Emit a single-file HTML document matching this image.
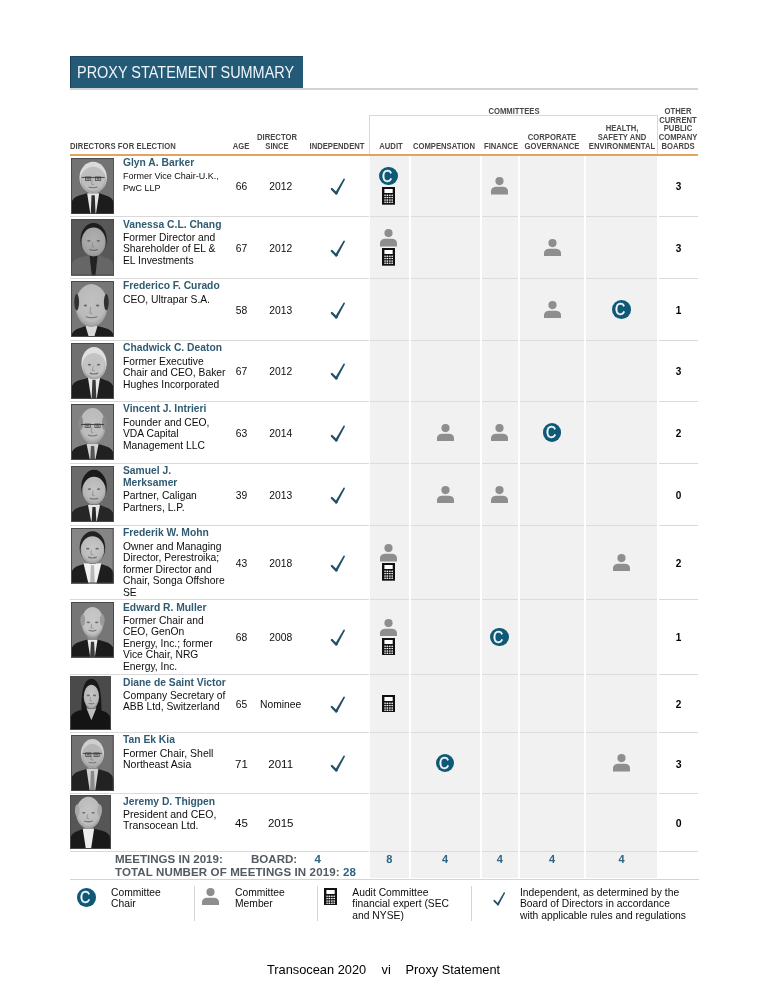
<!DOCTYPE html>
<html><head><meta charset="utf-8"><title>Proxy Statement Summary</title>
<style>
*{margin:0;padding:0;box-sizing:border-box}
html,body{width:768px;height:1000px;background:#fff;overflow:hidden}
body{position:relative;font-family:"Liberation Sans",Arial,Helvetica,sans-serif;color:#1a1a1a}
.a{position:absolute;white-space:nowrap}
.title{position:absolute;left:70px;top:56px;width:233px;height:32px;background:#255a77;border-left:1px solid #163f55;border-top:1px solid #1d4a62}
.title span{position:absolute;left:6.2px;top:0;line-height:31.4px;color:#eef5f9;font-size:15.8px;white-space:nowrap;transform:scaleX(0.915);transform-origin:0 0}
.hdr{position:absolute;font-size:8.4px;font-weight:bold;color:#474747;line-height:8.75px;text-align:center;white-space:nowrap;transform:scaleX(0.915)}
.ic{position:absolute;display:block}
.cc{position:absolute;width:18.6px;height:18.6px;border-radius:50%;background:#0f5977}
.cc span{position:absolute;left:0;top:0;width:18.6px;height:18.6px;color:#f4fbff;font-size:16.4px;line-height:18.8px;text-align:center;-webkit-text-stroke:0.35px #f4fbff;transform:translateX(-1.2px) scaleX(0.86)}
.nm{position:absolute;left:123px;font-size:10.3px;font-weight:bold;color:#2f5b72;line-height:11.7px;white-space:nowrap}
.ds{position:absolute;left:123px;font-size:10.3px;color:#0d0d0d;line-height:11.5px;white-space:nowrap}
.num{position:absolute;font-size:10.3px;line-height:12px;color:#0d0d0d;text-align:center;width:60px;white-space:nowrap}
.bd{position:absolute;font-size:10px;line-height:12px;font-weight:bold;color:#000;text-align:center;width:40px}
.col{position:absolute;background:#f1f1f1}
.sep{position:absolute;height:1px;background:#d9d9d9}
.mt{position:absolute;font-size:11.55px;line-height:13.5px;font-weight:bold;color:#535a62;white-space:nowrap}
.mv{position:absolute;font-size:11px;line-height:13px;font-weight:bold;color:#2e6485;text-align:center;width:30px}
.lg{position:absolute;font-size:10.3px;line-height:11.65px;color:#0d0d0d;white-space:nowrap}
.vl{position:absolute;width:1px;background:#d4d4d4}
.ft{position:absolute;font-size:12.8px;line-height:15px;color:#000;white-space:nowrap}
</style></head><body>

<div class="title"><span>PROXY STATEMENT SUMMARY</span></div>
<div class="a" style="left:70px;top:88px;width:628px;height:1.6px;background:#d2d2d2"></div>
<div class="col" style="left:370px;top:155.5px;width:38.5px;height:722.8px"></div>
<div class="col" style="left:410.5px;top:155.5px;width:69.0px;height:722.8px"></div>
<div class="col" style="left:481.5px;top:155.5px;width:36.5px;height:722.8px"></div>
<div class="col" style="left:520px;top:155.5px;width:64px;height:722.8px"></div>
<div class="col" style="left:586px;top:155.5px;width:71px;height:722.8px"></div>
<div class="a" style="left:369px;top:115px;width:289px;height:1px;background:#d9d9d9"></div>
<div class="a" style="left:369px;top:115px;width:1px;height:39px;background:#d9d9d9"></div>
<div class="a" style="left:657px;top:115px;width:1px;height:39px;background:#d9d9d9"></div>
<div class="hdr" style="left:69.6px;top:141.91px;width:120px;text-align:left;letter-spacing:0.08px;transform-origin:left 0">DIRECTORS FOR ELECTION</div>
<div class="hdr" style="left:201.3px;top:141.91px;width:80px;text-align:center;transform-origin:center 0">AGE</div>
<div class="hdr" style="left:237.3px;top:133.16px;width:80px;text-align:center;transform-origin:center 0">DIRECTOR<br>SINCE</div>
<div class="hdr" style="left:297.4px;top:141.91px;width:80px;text-align:center;transform-origin:center 0">INDEPENDENT</div>
<div class="hdr" style="left:351.0px;top:141.91px;width:80px;text-align:center;transform-origin:center 0">AUDIT</div>
<div class="hdr" style="left:403.7px;top:141.91px;width:80px;text-align:center;transform-origin:center 0">COMPENSATION</div>
<div class="hdr" style="left:460.6px;top:141.91px;width:80px;text-align:center;transform-origin:center 0">FINANCE</div>
<div class="hdr" style="left:511.6px;top:133.16px;width:80px;text-align:center;transform-origin:center 0">CORPORATE<br>GOVERNANCE</div>
<div class="hdr" style="left:581.9px;top:124.41px;width:80px;text-align:center;transform-origin:center 0">HEALTH,<br>SAFETY AND<br>ENVIRONMENTAL</div>
<div class="hdr" style="left:638.2px;top:106.91px;width:80px;text-align:center;transform-origin:center 0">OTHER<br>CURRENT<br>PUBLIC<br>COMPANY<br>BOARDS</div>
<div class="hdr" style="left:474.0px;top:107.11px;width:80px;text-align:center;transform-origin:center 0">COMMITTEES</div>
<div class="a" style="left:70px;top:153.5px;width:628px;height:2px;background:#e3a25e"></div>
<div class="sep" style="left:70px;top:216px;width:299px"></div>
<div class="sep" style="left:370px;top:216px;width:38.5px;background:#dcdcdc"></div>
<div class="sep" style="left:410.5px;top:216px;width:69.0px;background:#dcdcdc"></div>
<div class="sep" style="left:481.5px;top:216px;width:36.5px;background:#dcdcdc"></div>
<div class="sep" style="left:520px;top:216px;width:64px;background:#dcdcdc"></div>
<div class="sep" style="left:586px;top:216px;width:71px;background:#dcdcdc"></div>
<div class="sep" style="left:659px;top:216px;width:39px"></div>
<div class="sep" style="left:70px;top:278px;width:299px"></div>
<div class="sep" style="left:370px;top:278px;width:38.5px;background:#dcdcdc"></div>
<div class="sep" style="left:410.5px;top:278px;width:69.0px;background:#dcdcdc"></div>
<div class="sep" style="left:481.5px;top:278px;width:36.5px;background:#dcdcdc"></div>
<div class="sep" style="left:520px;top:278px;width:64px;background:#dcdcdc"></div>
<div class="sep" style="left:586px;top:278px;width:71px;background:#dcdcdc"></div>
<div class="sep" style="left:659px;top:278px;width:39px"></div>
<div class="sep" style="left:70px;top:340px;width:299px"></div>
<div class="sep" style="left:370px;top:340px;width:38.5px;background:#dcdcdc"></div>
<div class="sep" style="left:410.5px;top:340px;width:69.0px;background:#dcdcdc"></div>
<div class="sep" style="left:481.5px;top:340px;width:36.5px;background:#dcdcdc"></div>
<div class="sep" style="left:520px;top:340px;width:64px;background:#dcdcdc"></div>
<div class="sep" style="left:586px;top:340px;width:71px;background:#dcdcdc"></div>
<div class="sep" style="left:659px;top:340px;width:39px"></div>
<div class="sep" style="left:70px;top:401px;width:299px"></div>
<div class="sep" style="left:370px;top:401px;width:38.5px;background:#dcdcdc"></div>
<div class="sep" style="left:410.5px;top:401px;width:69.0px;background:#dcdcdc"></div>
<div class="sep" style="left:481.5px;top:401px;width:36.5px;background:#dcdcdc"></div>
<div class="sep" style="left:520px;top:401px;width:64px;background:#dcdcdc"></div>
<div class="sep" style="left:586px;top:401px;width:71px;background:#dcdcdc"></div>
<div class="sep" style="left:659px;top:401px;width:39px"></div>
<div class="sep" style="left:70px;top:463px;width:299px"></div>
<div class="sep" style="left:370px;top:463px;width:38.5px;background:#dcdcdc"></div>
<div class="sep" style="left:410.5px;top:463px;width:69.0px;background:#dcdcdc"></div>
<div class="sep" style="left:481.5px;top:463px;width:36.5px;background:#dcdcdc"></div>
<div class="sep" style="left:520px;top:463px;width:64px;background:#dcdcdc"></div>
<div class="sep" style="left:586px;top:463px;width:71px;background:#dcdcdc"></div>
<div class="sep" style="left:659px;top:463px;width:39px"></div>
<div class="sep" style="left:70px;top:525px;width:299px"></div>
<div class="sep" style="left:370px;top:525px;width:38.5px;background:#dcdcdc"></div>
<div class="sep" style="left:410.5px;top:525px;width:69.0px;background:#dcdcdc"></div>
<div class="sep" style="left:481.5px;top:525px;width:36.5px;background:#dcdcdc"></div>
<div class="sep" style="left:520px;top:525px;width:64px;background:#dcdcdc"></div>
<div class="sep" style="left:586px;top:525px;width:71px;background:#dcdcdc"></div>
<div class="sep" style="left:659px;top:525px;width:39px"></div>
<div class="sep" style="left:70px;top:599px;width:299px"></div>
<div class="sep" style="left:370px;top:599px;width:38.5px;background:#dcdcdc"></div>
<div class="sep" style="left:410.5px;top:599px;width:69.0px;background:#dcdcdc"></div>
<div class="sep" style="left:481.5px;top:599px;width:36.5px;background:#dcdcdc"></div>
<div class="sep" style="left:520px;top:599px;width:64px;background:#dcdcdc"></div>
<div class="sep" style="left:586px;top:599px;width:71px;background:#dcdcdc"></div>
<div class="sep" style="left:659px;top:599px;width:39px"></div>
<div class="sep" style="left:70px;top:674px;width:299px"></div>
<div class="sep" style="left:370px;top:674px;width:38.5px;background:#dcdcdc"></div>
<div class="sep" style="left:410.5px;top:674px;width:69.0px;background:#dcdcdc"></div>
<div class="sep" style="left:481.5px;top:674px;width:36.5px;background:#dcdcdc"></div>
<div class="sep" style="left:520px;top:674px;width:64px;background:#dcdcdc"></div>
<div class="sep" style="left:586px;top:674px;width:71px;background:#dcdcdc"></div>
<div class="sep" style="left:659px;top:674px;width:39px"></div>
<div class="sep" style="left:70px;top:732px;width:299px"></div>
<div class="sep" style="left:370px;top:732px;width:38.5px;background:#dcdcdc"></div>
<div class="sep" style="left:410.5px;top:732px;width:69.0px;background:#dcdcdc"></div>
<div class="sep" style="left:481.5px;top:732px;width:36.5px;background:#dcdcdc"></div>
<div class="sep" style="left:520px;top:732px;width:64px;background:#dcdcdc"></div>
<div class="sep" style="left:586px;top:732px;width:71px;background:#dcdcdc"></div>
<div class="sep" style="left:659px;top:732px;width:39px"></div>
<div class="sep" style="left:70px;top:793px;width:299px"></div>
<div class="sep" style="left:370px;top:793px;width:38.5px;background:#dcdcdc"></div>
<div class="sep" style="left:410.5px;top:793px;width:69.0px;background:#dcdcdc"></div>
<div class="sep" style="left:481.5px;top:793px;width:36.5px;background:#dcdcdc"></div>
<div class="sep" style="left:520px;top:793px;width:64px;background:#dcdcdc"></div>
<div class="sep" style="left:586px;top:793px;width:71px;background:#dcdcdc"></div>
<div class="sep" style="left:659px;top:793px;width:39px"></div>
<div class="sep" style="left:70px;top:851px;width:299px"></div>
<div class="sep" style="left:370px;top:851px;width:38.5px;background:#dcdcdc"></div>
<div class="sep" style="left:410.5px;top:851px;width:69.0px;background:#dcdcdc"></div>
<div class="sep" style="left:481.5px;top:851px;width:36.5px;background:#dcdcdc"></div>
<div class="sep" style="left:520px;top:851px;width:64px;background:#dcdcdc"></div>
<div class="sep" style="left:586px;top:851px;width:71px;background:#dcdcdc"></div>
<div class="sep" style="left:659px;top:851px;width:39px"></div>
<svg class="ic" style="left:71px;top:157.5px" width="43.3" height="56.3" viewBox="0 0 43 56" preserveAspectRatio="none"><defs><radialGradient id="g0" cx="0.5" cy="0.42" r="0.62"><stop offset="0" stop-color="#bcbcbc"/><stop offset="0.7" stop-color="#bcbcbc" stop-opacity="0.92"/><stop offset="1" stop-color="#8e8e8e"/></radialGradient></defs><rect width="43" height="56" fill="#737373"/><rect x="17" y="29" width="10" height="10" fill="#8e8e8e"/><path d="M0 56 V46 Q1 39 9 37 L16 35 L28 35 L34 37 Q42 39 43 46 V56 Z" fill="#1c1c1c"/><path d="M16 35 L28 35 L24.7 56 L19.3 56 Z" fill="#e6e6e6"/><path d="M20.4 37 L23.6 37 L24.4 56 L19.6 56 Z" fill="#2a2a2a"/><ellipse cx="22" cy="19.4" rx="13.6" ry="15.6" fill="#dadada"/><ellipse cx="22" cy="21.9" rx="12.6" ry="13.1" fill="url(#g0)"/><ellipse cx="17.06" cy="20.65" rx="1.7" ry="0.9" fill="#555" opacity="0.8"/><ellipse cx="26.94" cy="20.65" rx="1.7" ry="0.9" fill="#555" opacity="0.8"/><path d="M21.2 22.15 L20.4 26.11 L22.8 26.578" fill="none" stroke="#777" stroke-width="0.8" opacity="0.7"/><path d="M17.45 28.762 Q22 30.322 26.55 28.762" fill="none" stroke="#5a5a5a" stroke-width="1.1" opacity="0.75"/><rect x="10.5" y="18.849999999999998" width="23" height="0.9" fill="#3a3a3a"/><rect x="14.459999999999999" y="18.849999999999998" width="5.2" height="3.6" fill="none" stroke="#3a3a3a" stroke-width="0.7"/><rect x="24.34" y="18.849999999999998" width="5.2" height="3.6" fill="none" stroke="#3a3a3a" stroke-width="0.7"/><rect x="0.5" y="0.5" width="42" height="55" fill="none" stroke="#4a4a4a" stroke-width="1"/></svg>
<div class="nm" style="top:156.88px">Glyn A. Barker</div>
<div class="ds" style="top:171.18px;font-size:9px;line-height:11.8px">Former Vice Chair-U.K.,<br>PwC LLP</div>
<div class="num" style="left:211.4px;top:180.78px;font-size:10.3px">66</div>
<div class="num" style="left:250.7px;top:180.78px;font-size:10.3px">2012</div>
<svg class="ic" style="left:328.50px;top:176.75px;overflow:visible" width="18.00" height="20.00" viewBox="0 0 18 20"><path d="M2.85 11.95 L7.2 16.35" fill="none" stroke="#215068" stroke-width="2.3" stroke-linecap="round"/><path d="M6.15 15.76 L14.4 1.96 L15.8 2.74 L8.25 16.94 Z" fill="#215068"/><circle cx="15.1" cy="2.35" r="0.8" fill="#215068"/><circle cx="7.2" cy="16.35" r="1.2" fill="#215068"/></svg>
<div class="cc" style="left:379.35px;top:166.70px"><span>C</span></div>
<svg class="ic" style="left:382.15px;top:187.10px" width="13" height="17.7" viewBox="0 0 13 17.7"><rect width="13" height="17.7" fill="#111"/><rect x="2.4" y="2" width="8.3" height="4" fill="#fff"/><rect x="2.6" y="7.949999999999999" width="8.2" height="0.6" fill="#fff" opacity="0.45"/><rect x="2.6" y="10.25" width="8.2" height="0.6" fill="#fff" opacity="0.45"/><rect x="2.6" y="12.75" width="8.2" height="0.6" fill="#fff" opacity="0.45"/><rect x="2.6" y="14.95" width="8.2" height="0.6" fill="#fff" opacity="0.45"/><rect x="2.4" y="7.6" width="1.3" height="1.3" fill="#fff"/><rect x="2.4" y="9.9" width="1.3" height="1.3" fill="#fff"/><rect x="2.4" y="12.4" width="1.3" height="1.3" fill="#fff"/><rect x="2.4" y="14.6" width="1.3" height="1.3" fill="#fff"/><rect x="4.7" y="7.6" width="1.3" height="1.3" fill="#fff"/><rect x="4.7" y="9.9" width="1.3" height="1.3" fill="#fff"/><rect x="4.7" y="12.4" width="1.3" height="1.3" fill="#fff"/><rect x="4.7" y="14.6" width="1.3" height="1.3" fill="#fff"/><rect x="7.2" y="7.6" width="1.3" height="1.3" fill="#fff"/><rect x="7.2" y="9.9" width="1.3" height="1.3" fill="#fff"/><rect x="7.2" y="12.4" width="1.3" height="1.3" fill="#fff"/><rect x="7.2" y="14.6" width="1.3" height="1.3" fill="#fff"/><rect x="9.6" y="7.6" width="1.3" height="1.3" fill="#fff"/><rect x="9.6" y="9.9" width="1.3" height="1.3" fill="#fff"/><rect x="9.6" y="12.4" width="1.3" height="1.3" fill="#fff"/><rect x="9.6" y="14.6" width="1.3" height="1.3" fill="#fff"/></svg>
<svg class="ic" style="left:491.25px;top:177.00px" width="17" height="17.5" viewBox="0 0 17 17.5"><circle cx="8.5" cy="4.1" r="4.1" fill="#8e8e8e"/><path d="M0 17.5 V14.3 C0 11.2 2.6 9.8 6 9.8 H11 C14.4 9.8 17 11.2 17 14.3 V17.5 Z" fill="#8e8e8e"/></svg>
<div class="bd" style="left:658.6px;top:180.88px;font-size:10px">3</div>
<svg class="ic" style="left:71px;top:219px" width="43.2" height="56.6" viewBox="0 0 43 56" preserveAspectRatio="none"><defs><radialGradient id="g1" cx="0.5" cy="0.42" r="0.62"><stop offset="0" stop-color="#b0b0b0"/><stop offset="0.7" stop-color="#b0b0b0" stop-opacity="0.92"/><stop offset="1" stop-color="#8e8e8e"/></radialGradient></defs><rect width="43" height="56" fill="#585858"/><rect x="17.5" y="31" width="10" height="9" fill="#8e8e8e"/><path d="M0 56 V47 Q1 40 9 38 L16.5 36 L28.5 36 L34 38 Q42 40 43 47 V56 Z" fill="#666666"/><path d="M18.5 36 L26.5 36 L24.3 56 L20.7 56 Z" fill="#222222"/><ellipse cx="22.5" cy="20.5" rx="13.1" ry="16.5" fill="#1e1e1e"/><ellipse cx="22.5" cy="22.75" rx="12.1" ry="14.25" fill="url(#g1)"/><ellipse cx="17.75" cy="21.625" rx="1.7" ry="0.9" fill="#555" opacity="0.8"/><ellipse cx="27.25" cy="21.625" rx="1.7" ry="0.9" fill="#555" opacity="0.8"/><path d="M21.7 23.125 L20.9 27.4 L23.3 27.895" fill="none" stroke="#777" stroke-width="0.8" opacity="0.7"/><path d="M18.125 30.205 Q22.5 31.855 26.875 30.205" fill="none" stroke="#5a5a5a" stroke-width="1.1" opacity="0.75"/><rect x="0.5" y="0.5" width="42" height="55" fill="none" stroke="#4a4a4a" stroke-width="1"/></svg>
<div class="nm" style="top:219.38px">Vanessa C.L. Chang</div>
<div class="ds" style="top:231.58px;font-size:10.3px;line-height:11.5px">Former Director and<br>Shareholder of EL &<br>EL Investments</div>
<div class="num" style="left:211.4px;top:242.53px;font-size:10.3px">67</div>
<div class="num" style="left:250.7px;top:242.53px;font-size:10.3px">2012</div>
<svg class="ic" style="left:328.50px;top:238.50px;overflow:visible" width="18.00" height="20.00" viewBox="0 0 18 20"><path d="M2.85 11.95 L7.2 16.35" fill="none" stroke="#215068" stroke-width="2.3" stroke-linecap="round"/><path d="M6.15 15.76 L14.4 1.96 L15.8 2.74 L8.25 16.94 Z" fill="#215068"/><circle cx="15.1" cy="2.35" r="0.8" fill="#215068"/><circle cx="7.2" cy="16.35" r="1.2" fill="#215068"/></svg>
<svg class="ic" style="left:380.15px;top:229.00px" width="17" height="17.5" viewBox="0 0 17 17.5"><circle cx="8.5" cy="4.1" r="4.1" fill="#8e8e8e"/><path d="M0 17.5 V14.3 C0 11.2 2.6 9.8 6 9.8 H11 C14.4 9.8 17 11.2 17 14.3 V17.5 Z" fill="#8e8e8e"/></svg>
<svg class="ic" style="left:382.15px;top:248.30px" width="13" height="17.7" viewBox="0 0 13 17.7"><rect width="13" height="17.7" fill="#111"/><rect x="2.4" y="2" width="8.3" height="4" fill="#fff"/><rect x="2.6" y="7.949999999999999" width="8.2" height="0.6" fill="#fff" opacity="0.45"/><rect x="2.6" y="10.25" width="8.2" height="0.6" fill="#fff" opacity="0.45"/><rect x="2.6" y="12.75" width="8.2" height="0.6" fill="#fff" opacity="0.45"/><rect x="2.6" y="14.95" width="8.2" height="0.6" fill="#fff" opacity="0.45"/><rect x="2.4" y="7.6" width="1.3" height="1.3" fill="#fff"/><rect x="2.4" y="9.9" width="1.3" height="1.3" fill="#fff"/><rect x="2.4" y="12.4" width="1.3" height="1.3" fill="#fff"/><rect x="2.4" y="14.6" width="1.3" height="1.3" fill="#fff"/><rect x="4.7" y="7.6" width="1.3" height="1.3" fill="#fff"/><rect x="4.7" y="9.9" width="1.3" height="1.3" fill="#fff"/><rect x="4.7" y="12.4" width="1.3" height="1.3" fill="#fff"/><rect x="4.7" y="14.6" width="1.3" height="1.3" fill="#fff"/><rect x="7.2" y="7.6" width="1.3" height="1.3" fill="#fff"/><rect x="7.2" y="9.9" width="1.3" height="1.3" fill="#fff"/><rect x="7.2" y="12.4" width="1.3" height="1.3" fill="#fff"/><rect x="7.2" y="14.6" width="1.3" height="1.3" fill="#fff"/><rect x="9.6" y="7.6" width="1.3" height="1.3" fill="#fff"/><rect x="9.6" y="9.9" width="1.3" height="1.3" fill="#fff"/><rect x="9.6" y="12.4" width="1.3" height="1.3" fill="#fff"/><rect x="9.6" y="14.6" width="1.3" height="1.3" fill="#fff"/></svg>
<svg class="ic" style="left:543.50px;top:238.75px" width="17" height="17.5" viewBox="0 0 17 17.5"><circle cx="8.5" cy="4.1" r="4.1" fill="#8e8e8e"/><path d="M0 17.5 V14.3 C0 11.2 2.6 9.8 6 9.8 H11 C14.4 9.8 17 11.2 17 14.3 V17.5 Z" fill="#8e8e8e"/></svg>
<div class="bd" style="left:658.6px;top:242.63px;font-size:10px">3</div>
<svg class="ic" style="left:71px;top:281px" width="43.0" height="56.0" viewBox="0 0 43 56" preserveAspectRatio="none"><defs><radialGradient id="g2" cx="0.5" cy="0.42" r="0.62"><stop offset="0" stop-color="#c0c0c0"/><stop offset="0.7" stop-color="#c0c0c0" stop-opacity="0.92"/><stop offset="1" stop-color="#8e8e8e"/></radialGradient></defs><rect width="43" height="56" fill="#777777"/><rect x="15.5" y="40" width="10" height="9" fill="#8e8e8e"/><path d="M0 56 V56 Q1 49 9 47 L14.5 45 L26.5 45 L34 47 Q42 49 43 56 V56 Z" fill="#1c1c1c"/><path d="M14.5 45 L26.5 45 L23.2 56 L17.8 56 Z" fill="#d8d8d8"/><ellipse cx="20.5" cy="24.5" rx="16" ry="21.5" fill="url(#g2)"/><ellipse cx="5.7" cy="21.275" rx="2.4" ry="8.17" fill="#303030"/><ellipse cx="35.3" cy="21.275" rx="2.4" ry="8.17" fill="#303030"/><ellipse cx="14.42" cy="24.5" rx="1.7" ry="0.9" fill="#555" opacity="0.8"/><ellipse cx="26.58" cy="24.5" rx="1.7" ry="0.9" fill="#555" opacity="0.8"/><path d="M19.7 26.0 L18.9 32.025 L21.3 32.67" fill="none" stroke="#777" stroke-width="0.8" opacity="0.7"/><path d="M14.9 35.68 Q20.5 37.83 26.1 35.68" fill="none" stroke="#5a5a5a" stroke-width="1.1" opacity="0.75"/><rect x="0.5" y="0.5" width="42" height="55" fill="none" stroke="#4a4a4a" stroke-width="1"/></svg>
<div class="nm" style="top:280.38px">Frederico F. Curado</div>
<div class="ds" style="top:293.58px;font-size:10.3px;line-height:11.5px">CEO, Ultrapar S.A.</div>
<div class="num" style="left:211.4px;top:304.53px;font-size:10.3px">58</div>
<div class="num" style="left:250.7px;top:304.53px;font-size:10.3px">2013</div>
<svg class="ic" style="left:328.50px;top:300.50px;overflow:visible" width="18.00" height="20.00" viewBox="0 0 18 20"><path d="M2.85 11.95 L7.2 16.35" fill="none" stroke="#215068" stroke-width="2.3" stroke-linecap="round"/><path d="M6.15 15.76 L14.4 1.96 L15.8 2.74 L8.25 16.94 Z" fill="#215068"/><circle cx="15.1" cy="2.35" r="0.8" fill="#215068"/><circle cx="7.2" cy="16.35" r="1.2" fill="#215068"/></svg>
<svg class="ic" style="left:543.50px;top:300.75px" width="17" height="17.5" viewBox="0 0 17 17.5"><circle cx="8.5" cy="4.1" r="4.1" fill="#8e8e8e"/><path d="M0 17.5 V14.3 C0 11.2 2.6 9.8 6 9.8 H11 C14.4 9.8 17 11.2 17 14.3 V17.5 Z" fill="#8e8e8e"/></svg>
<div class="cc" style="left:612.20px;top:300.20px"><span>C</span></div>
<div class="bd" style="left:658.6px;top:304.64px;font-size:10px">1</div>
<svg class="ic" style="left:71px;top:342.5px" width="43.0" height="56.0" viewBox="0 0 43 56" preserveAspectRatio="none"><defs><radialGradient id="g3" cx="0.5" cy="0.42" r="0.62"><stop offset="0" stop-color="#c2c2c2"/><stop offset="0.7" stop-color="#c2c2c2" stop-opacity="0.92"/><stop offset="1" stop-color="#8e8e8e"/></radialGradient></defs><rect width="43" height="56" fill="#707070"/><rect x="18" y="30.4" width="10" height="8.600000000000001" fill="#8e8e8e"/><path d="M0 56 V46 Q1 39 9 37 L17 35 L29 35 L34 37 Q42 39 43 46 V56 Z" fill="#1e1e1e"/><path d="M17 35 L29 35 L25.7 56 L20.3 56 Z" fill="#e8e8e8"/><path d="M21.4 37 L24.6 37 L25.4 56 L20.6 56 Z" fill="#3a3a3a"/><ellipse cx="23" cy="20.2" rx="12.6" ry="16.2" fill="#e0e0e0"/><ellipse cx="23" cy="23.2" rx="11.6" ry="13.2" fill="url(#g3)"/><ellipse cx="18.439999999999998" cy="21.7" rx="1.7" ry="0.9" fill="#555" opacity="0.8"/><ellipse cx="27.560000000000002" cy="21.7" rx="1.7" ry="0.9" fill="#555" opacity="0.8"/><path d="M22.2 23.2 L21.4 27.369999999999997 L23.8 27.855999999999998" fill="none" stroke="#777" stroke-width="0.8" opacity="0.7"/><path d="M18.8 30.124 Q23 31.744 27.2 30.124" fill="none" stroke="#5a5a5a" stroke-width="1.1" opacity="0.75"/><rect x="0.5" y="0.5" width="42" height="55" fill="none" stroke="#4a4a4a" stroke-width="1"/></svg>
<div class="nm" style="top:342.38px">Chadwick C. Deaton</div>
<div class="ds" style="top:355.58px;font-size:10.3px;line-height:11.5px">Former Executive<br>Chair and CEO, Baker<br>Hughes Incorporated</div>
<div class="num" style="left:211.4px;top:366.03px;font-size:10.3px">67</div>
<div class="num" style="left:250.7px;top:366.03px;font-size:10.3px">2012</div>
<svg class="ic" style="left:328.50px;top:362.00px;overflow:visible" width="18.00" height="20.00" viewBox="0 0 18 20"><path d="M2.85 11.95 L7.2 16.35" fill="none" stroke="#215068" stroke-width="2.3" stroke-linecap="round"/><path d="M6.15 15.76 L14.4 1.96 L15.8 2.74 L8.25 16.94 Z" fill="#215068"/><circle cx="15.1" cy="2.35" r="0.8" fill="#215068"/><circle cx="7.2" cy="16.35" r="1.2" fill="#215068"/></svg>
<div class="bd" style="left:658.6px;top:366.14px;font-size:10px">3</div>
<svg class="ic" style="left:71px;top:404px" width="43.0" height="56.0" viewBox="0 0 43 56" preserveAspectRatio="none"><defs><radialGradient id="g4" cx="0.5" cy="0.42" r="0.62"><stop offset="0" stop-color="#c0c0c0"/><stop offset="0.7" stop-color="#c0c0c0" stop-opacity="0.92"/><stop offset="1" stop-color="#8e8e8e"/></radialGradient></defs><rect width="43" height="56" fill="#828282"/><rect x="16.6" y="33.7" width="10" height="10.299999999999997" fill="#8e8e8e"/><path d="M0 56 V51 Q1 44 9 42 L15.600000000000001 40 L27.6 40 L34 42 Q42 44 43 51 V56 Z" fill="#202020"/><path d="M15.600000000000001 40 L27.6 40 L24.3 56 L18.900000000000002 56 Z" fill="#d4d4d4"/><path d="M20.0 42 L23.200000000000003 42 L24.0 56 L19.200000000000003 56 Z" fill="#555"/><ellipse cx="21.6" cy="21.8" rx="13" ry="17.900000000000002" fill="url(#g4)"/><ellipse cx="9.8" cy="19.115000000000002" rx="2.4" ry="6.8020000000000005" fill="#8a8a8a"/><ellipse cx="33.4" cy="19.115000000000002" rx="2.4" ry="6.8020000000000005" fill="#8a8a8a"/><ellipse cx="16.66" cy="21.8" rx="1.7" ry="0.9" fill="#555" opacity="0.8"/><ellipse cx="26.540000000000003" cy="21.8" rx="1.7" ry="0.9" fill="#555" opacity="0.8"/><path d="M20.8 23.3 L20.0 28.065 L22.400000000000002 28.602" fill="none" stroke="#777" stroke-width="0.8" opacity="0.7"/><path d="M17.05 31.108000000000004 Q21.6 32.898 26.150000000000002 31.108000000000004" fill="none" stroke="#5a5a5a" stroke-width="1.1" opacity="0.75"/><rect x="10.100000000000001" y="20.0" width="23" height="0.9" fill="#3a3a3a"/><rect x="14.06" y="20.0" width="5.2" height="3.6" fill="none" stroke="#3a3a3a" stroke-width="0.7"/><rect x="23.94" y="20.0" width="5.2" height="3.6" fill="none" stroke="#3a3a3a" stroke-width="0.7"/><rect x="0.5" y="0.5" width="42" height="55" fill="none" stroke="#4a4a4a" stroke-width="1"/></svg>
<div class="nm" style="top:403.38px">Vincent J. Intrieri</div>
<div class="ds" style="top:416.58px;font-size:10.3px;line-height:11.5px">Founder and CEO,<br>VDA Capital<br>Management LLC</div>
<div class="num" style="left:211.4px;top:427.53px;font-size:10.3px">63</div>
<div class="num" style="left:250.7px;top:427.53px;font-size:10.3px">2014</div>
<svg class="ic" style="left:328.50px;top:423.50px;overflow:visible" width="18.00" height="20.00" viewBox="0 0 18 20"><path d="M2.85 11.95 L7.2 16.35" fill="none" stroke="#215068" stroke-width="2.3" stroke-linecap="round"/><path d="M6.15 15.76 L14.4 1.96 L15.8 2.74 L8.25 16.94 Z" fill="#215068"/><circle cx="15.1" cy="2.35" r="0.8" fill="#215068"/><circle cx="7.2" cy="16.35" r="1.2" fill="#215068"/></svg>
<svg class="ic" style="left:436.50px;top:423.75px" width="17" height="17.5" viewBox="0 0 17 17.5"><circle cx="8.5" cy="4.1" r="4.1" fill="#8e8e8e"/><path d="M0 17.5 V14.3 C0 11.2 2.6 9.8 6 9.8 H11 C14.4 9.8 17 11.2 17 14.3 V17.5 Z" fill="#8e8e8e"/></svg>
<svg class="ic" style="left:491.25px;top:423.75px" width="17" height="17.5" viewBox="0 0 17 17.5"><circle cx="8.5" cy="4.1" r="4.1" fill="#8e8e8e"/><path d="M0 17.5 V14.3 C0 11.2 2.6 9.8 6 9.8 H11 C14.4 9.8 17 11.2 17 14.3 V17.5 Z" fill="#8e8e8e"/></svg>
<div class="cc" style="left:542.70px;top:423.20px"><span>C</span></div>
<div class="bd" style="left:658.6px;top:427.64px;font-size:10px">2</div>
<svg class="ic" style="left:71px;top:466px" width="43.0" height="56.0" viewBox="0 0 43 56" preserveAspectRatio="none"><defs><radialGradient id="g5" cx="0.5" cy="0.42" r="0.62"><stop offset="0" stop-color="#c4c4c4"/><stop offset="0.7" stop-color="#c4c4c4" stop-opacity="0.92"/><stop offset="1" stop-color="#8e8e8e"/></radialGradient></defs><rect width="43" height="56" fill="#6b6b6b"/><rect x="18" y="32.8" width="10" height="10.200000000000003" fill="#8e8e8e"/><path d="M0 56 V50 Q1 43 9 41 L17 39 L29 39 L34 41 Q42 43 43 50 V56 Z" fill="#262626"/><path d="M17 39 L29 39 L25.7 56 L20.3 56 Z" fill="#e8e8e8"/><path d="M21.4 41 L24.6 41 L25.4 56 L20.6 56 Z" fill="#2a2a2a"/><ellipse cx="23" cy="21.299999999999997" rx="12.799999999999999" ry="17.5" fill="#1a1a1a"/><ellipse cx="23" cy="24.799999999999997" rx="11.799999999999999" ry="14.0" fill="url(#g5)"/><ellipse cx="18.364" cy="23.049999999999997" rx="1.7" ry="0.9" fill="#555" opacity="0.8"/><ellipse cx="27.636" cy="23.049999999999997" rx="1.7" ry="0.9" fill="#555" opacity="0.8"/><path d="M22.2 24.549999999999997 L21.4 29.174999999999997 L23.8 29.699999999999996" fill="none" stroke="#777" stroke-width="0.8" opacity="0.7"/><path d="M18.73 32.15 Q23 33.9 27.27 32.15" fill="none" stroke="#5a5a5a" stroke-width="1.1" opacity="0.75"/><rect x="0.5" y="0.5" width="42" height="55" fill="none" stroke="#4a4a4a" stroke-width="1"/></svg>
<div class="nm" style="top:465.38px">Samuel J.<br>Merksamer</div>
<div class="ds" style="top:490.28px;font-size:10.3px;line-height:11.5px">Partner, Caligan<br>Partners, L.P.</div>
<div class="num" style="left:211.4px;top:489.53px;font-size:10.3px">39</div>
<div class="num" style="left:250.7px;top:489.53px;font-size:10.3px">2013</div>
<svg class="ic" style="left:328.50px;top:485.50px;overflow:visible" width="18.00" height="20.00" viewBox="0 0 18 20"><path d="M2.85 11.95 L7.2 16.35" fill="none" stroke="#215068" stroke-width="2.3" stroke-linecap="round"/><path d="M6.15 15.76 L14.4 1.96 L15.8 2.74 L8.25 16.94 Z" fill="#215068"/><circle cx="15.1" cy="2.35" r="0.8" fill="#215068"/><circle cx="7.2" cy="16.35" r="1.2" fill="#215068"/></svg>
<svg class="ic" style="left:436.50px;top:485.75px" width="17" height="17.5" viewBox="0 0 17 17.5"><circle cx="8.5" cy="4.1" r="4.1" fill="#8e8e8e"/><path d="M0 17.5 V14.3 C0 11.2 2.6 9.8 6 9.8 H11 C14.4 9.8 17 11.2 17 14.3 V17.5 Z" fill="#8e8e8e"/></svg>
<svg class="ic" style="left:491.25px;top:485.75px" width="17" height="17.5" viewBox="0 0 17 17.5"><circle cx="8.5" cy="4.1" r="4.1" fill="#8e8e8e"/><path d="M0 17.5 V14.3 C0 11.2 2.6 9.8 6 9.8 H11 C14.4 9.8 17 11.2 17 14.3 V17.5 Z" fill="#8e8e8e"/></svg>
<div class="bd" style="left:658.6px;top:489.64px;font-size:10px">0</div>
<svg class="ic" style="left:71.2px;top:528px" width="42.7" height="55.5" viewBox="0 0 43 56" preserveAspectRatio="none"><defs><radialGradient id="g6" cx="0.5" cy="0.42" r="0.62"><stop offset="0" stop-color="#c8c8c8"/><stop offset="0.7" stop-color="#c8c8c8" stop-opacity="0.92"/><stop offset="1" stop-color="#8e8e8e"/></radialGradient></defs><rect width="43" height="56" fill="#868686"/><rect x="16.6" y="30" width="10" height="9.5" fill="#8e8e8e"/><path d="M0 56 V46.5 Q1 39.5 9 37.5 L15.600000000000001 35.5 L27.6 35.5 L34 37.5 Q42 39.5 43 46.5 V56 Z" fill="#1e1e1e"/><path d="M12.600000000000001 35.5 L30.6 35.5 L25.650000000000002 56 L17.55 56 Z" fill="#f2f2f2"/><path d="M20.0 37.5 L23.200000000000003 37.5 L24.0 56 L19.200000000000003 56 Z" fill="#b8b8b8"/><ellipse cx="21.6" cy="19.6" rx="12.9" ry="16.4" fill="#222222"/><ellipse cx="21.6" cy="22.1" rx="11.9" ry="13.899999999999999" fill="url(#g6)"/><ellipse cx="16.926000000000002" cy="20.85" rx="1.7" ry="0.9" fill="#555" opacity="0.8"/><ellipse cx="26.274" cy="20.85" rx="1.7" ry="0.9" fill="#555" opacity="0.8"/><path d="M20.8 22.35 L20.0 26.59 L22.400000000000002 27.082" fill="none" stroke="#777" stroke-width="0.8" opacity="0.7"/><path d="M17.295 29.378 Q21.6 31.018 25.905 29.378" fill="none" stroke="#5a5a5a" stroke-width="1.1" opacity="0.75"/><rect x="0.5" y="0.5" width="42" height="55" fill="none" stroke="#4a4a4a" stroke-width="1"/></svg>
<div class="nm" style="top:527.38px">Frederik W. Mohn</div>
<div class="ds" style="top:540.58px;font-size:10.3px;line-height:11.5px">Owner and Managing<br>Director, Perestroika;<br>former Director and<br>Chair, Songa Offshore<br>SE</div>
<div class="num" style="left:211.4px;top:557.53px;font-size:10.3px">43</div>
<div class="num" style="left:250.7px;top:557.53px;font-size:10.3px">2018</div>
<svg class="ic" style="left:328.50px;top:553.50px;overflow:visible" width="18.00" height="20.00" viewBox="0 0 18 20"><path d="M2.85 11.95 L7.2 16.35" fill="none" stroke="#215068" stroke-width="2.3" stroke-linecap="round"/><path d="M6.15 15.76 L14.4 1.96 L15.8 2.74 L8.25 16.94 Z" fill="#215068"/><circle cx="15.1" cy="2.35" r="0.8" fill="#215068"/><circle cx="7.2" cy="16.35" r="1.2" fill="#215068"/></svg>
<svg class="ic" style="left:380.15px;top:544.00px" width="17" height="17.5" viewBox="0 0 17 17.5"><circle cx="8.5" cy="4.1" r="4.1" fill="#8e8e8e"/><path d="M0 17.5 V14.3 C0 11.2 2.6 9.8 6 9.8 H11 C14.4 9.8 17 11.2 17 14.3 V17.5 Z" fill="#8e8e8e"/></svg>
<svg class="ic" style="left:382.15px;top:563.30px" width="13" height="17.7" viewBox="0 0 13 17.7"><rect width="13" height="17.7" fill="#111"/><rect x="2.4" y="2" width="8.3" height="4" fill="#fff"/><rect x="2.6" y="7.949999999999999" width="8.2" height="0.6" fill="#fff" opacity="0.45"/><rect x="2.6" y="10.25" width="8.2" height="0.6" fill="#fff" opacity="0.45"/><rect x="2.6" y="12.75" width="8.2" height="0.6" fill="#fff" opacity="0.45"/><rect x="2.6" y="14.95" width="8.2" height="0.6" fill="#fff" opacity="0.45"/><rect x="2.4" y="7.6" width="1.3" height="1.3" fill="#fff"/><rect x="2.4" y="9.9" width="1.3" height="1.3" fill="#fff"/><rect x="2.4" y="12.4" width="1.3" height="1.3" fill="#fff"/><rect x="2.4" y="14.6" width="1.3" height="1.3" fill="#fff"/><rect x="4.7" y="7.6" width="1.3" height="1.3" fill="#fff"/><rect x="4.7" y="9.9" width="1.3" height="1.3" fill="#fff"/><rect x="4.7" y="12.4" width="1.3" height="1.3" fill="#fff"/><rect x="4.7" y="14.6" width="1.3" height="1.3" fill="#fff"/><rect x="7.2" y="7.6" width="1.3" height="1.3" fill="#fff"/><rect x="7.2" y="9.9" width="1.3" height="1.3" fill="#fff"/><rect x="7.2" y="12.4" width="1.3" height="1.3" fill="#fff"/><rect x="7.2" y="14.6" width="1.3" height="1.3" fill="#fff"/><rect x="9.6" y="7.6" width="1.3" height="1.3" fill="#fff"/><rect x="9.6" y="9.9" width="1.3" height="1.3" fill="#fff"/><rect x="9.6" y="12.4" width="1.3" height="1.3" fill="#fff"/><rect x="9.6" y="14.6" width="1.3" height="1.3" fill="#fff"/></svg>
<svg class="ic" style="left:613.00px;top:553.75px" width="17" height="17.5" viewBox="0 0 17 17.5"><circle cx="8.5" cy="4.1" r="4.1" fill="#8e8e8e"/><path d="M0 17.5 V14.3 C0 11.2 2.6 9.8 6 9.8 H11 C14.4 9.8 17 11.2 17 14.3 V17.5 Z" fill="#8e8e8e"/></svg>
<div class="bd" style="left:658.6px;top:557.63px;font-size:10px">2</div>
<svg class="ic" style="left:71px;top:602.4px" width="43.0" height="55.6" viewBox="0 0 43 56" preserveAspectRatio="none"><defs><radialGradient id="g7" cx="0.5" cy="0.42" r="0.62"><stop offset="0" stop-color="#c8c8c8"/><stop offset="0.7" stop-color="#c8c8c8" stop-opacity="0.92"/><stop offset="1" stop-color="#8e8e8e"/></radialGradient></defs><rect width="43" height="56" fill="#767676"/><rect x="16.5" y="30" width="10" height="12" fill="#8e8e8e"/><path d="M0 56 V49 Q1 42 9 40 L15.5 38 L27.5 38 L34 40 Q42 42 43 49 V56 Z" fill="#1b1b1b"/><path d="M16.5 38 L26.5 38 L23.75 56 L19.25 56 Z" fill="#ececec"/><path d="M19.9 40 L23.1 40 L23.9 56 L19.1 56 Z" fill="#3a3a3a"/><ellipse cx="21.5" cy="20.5" rx="11" ry="15.5" fill="url(#g7)"/><ellipse cx="11.7" cy="18.175" rx="2.4" ry="5.89" fill="#9a9a9a"/><ellipse cx="31.3" cy="18.175" rx="2.4" ry="5.89" fill="#9a9a9a"/><ellipse cx="17.32" cy="20.5" rx="1.7" ry="0.9" fill="#555" opacity="0.8"/><ellipse cx="25.68" cy="20.5" rx="1.7" ry="0.9" fill="#555" opacity="0.8"/><path d="M20.7 22.0 L19.9 25.925 L22.3 26.39" fill="none" stroke="#777" stroke-width="0.8" opacity="0.7"/><path d="M17.65 28.560000000000002 Q21.5 30.11 25.35 28.560000000000002" fill="none" stroke="#5a5a5a" stroke-width="1.1" opacity="0.75"/><rect x="0.5" y="0.5" width="42" height="55" fill="none" stroke="#4a4a4a" stroke-width="1"/></svg>
<div class="nm" style="top:602.38px">Edward R. Muller</div>
<div class="ds" style="top:614.58px;font-size:10.3px;line-height:11.5px">Former Chair and<br>CEO, GenOn<br>Energy, Inc.; former<br>Vice Chair, NRG<br>Energy, Inc.</div>
<div class="num" style="left:211.4px;top:632.03px;font-size:10.3px">68</div>
<div class="num" style="left:250.7px;top:632.03px;font-size:10.3px">2008</div>
<svg class="ic" style="left:328.50px;top:628.00px;overflow:visible" width="18.00" height="20.00" viewBox="0 0 18 20"><path d="M2.85 11.95 L7.2 16.35" fill="none" stroke="#215068" stroke-width="2.3" stroke-linecap="round"/><path d="M6.15 15.76 L14.4 1.96 L15.8 2.74 L8.25 16.94 Z" fill="#215068"/><circle cx="15.1" cy="2.35" r="0.8" fill="#215068"/><circle cx="7.2" cy="16.35" r="1.2" fill="#215068"/></svg>
<svg class="ic" style="left:380.15px;top:618.50px" width="17" height="17.5" viewBox="0 0 17 17.5"><circle cx="8.5" cy="4.1" r="4.1" fill="#8e8e8e"/><path d="M0 17.5 V14.3 C0 11.2 2.6 9.8 6 9.8 H11 C14.4 9.8 17 11.2 17 14.3 V17.5 Z" fill="#8e8e8e"/></svg>
<svg class="ic" style="left:382.15px;top:637.80px" width="13" height="17.7" viewBox="0 0 13 17.7"><rect width="13" height="17.7" fill="#111"/><rect x="2.4" y="2" width="8.3" height="4" fill="#fff"/><rect x="2.6" y="7.949999999999999" width="8.2" height="0.6" fill="#fff" opacity="0.45"/><rect x="2.6" y="10.25" width="8.2" height="0.6" fill="#fff" opacity="0.45"/><rect x="2.6" y="12.75" width="8.2" height="0.6" fill="#fff" opacity="0.45"/><rect x="2.6" y="14.95" width="8.2" height="0.6" fill="#fff" opacity="0.45"/><rect x="2.4" y="7.6" width="1.3" height="1.3" fill="#fff"/><rect x="2.4" y="9.9" width="1.3" height="1.3" fill="#fff"/><rect x="2.4" y="12.4" width="1.3" height="1.3" fill="#fff"/><rect x="2.4" y="14.6" width="1.3" height="1.3" fill="#fff"/><rect x="4.7" y="7.6" width="1.3" height="1.3" fill="#fff"/><rect x="4.7" y="9.9" width="1.3" height="1.3" fill="#fff"/><rect x="4.7" y="12.4" width="1.3" height="1.3" fill="#fff"/><rect x="4.7" y="14.6" width="1.3" height="1.3" fill="#fff"/><rect x="7.2" y="7.6" width="1.3" height="1.3" fill="#fff"/><rect x="7.2" y="9.9" width="1.3" height="1.3" fill="#fff"/><rect x="7.2" y="12.4" width="1.3" height="1.3" fill="#fff"/><rect x="7.2" y="14.6" width="1.3" height="1.3" fill="#fff"/><rect x="9.6" y="7.6" width="1.3" height="1.3" fill="#fff"/><rect x="9.6" y="9.9" width="1.3" height="1.3" fill="#fff"/><rect x="9.6" y="12.4" width="1.3" height="1.3" fill="#fff"/><rect x="9.6" y="14.6" width="1.3" height="1.3" fill="#fff"/></svg>
<div class="cc" style="left:490.45px;top:627.70px"><span>C</span></div>
<div class="bd" style="left:658.6px;top:632.13px;font-size:10px">1</div>
<svg class="ic" style="left:70.3px;top:676px" width="40.9" height="54.0" viewBox="0 0 43 56" preserveAspectRatio="none"><defs><radialGradient id="g8" cx="0.5" cy="0.42" r="0.62"><stop offset="0" stop-color="#c6c6c6"/><stop offset="0.7" stop-color="#c6c6c6" stop-opacity="0.92"/><stop offset="1" stop-color="#8e8e8e"/></radialGradient></defs><rect width="43" height="56" fill="#4a4a4a"/><path d="M12.0 40 Q11.0 3.2 22.5 3.2 Q34.0 3.2 33.0 40 Z" fill="#181818"/><rect x="17.5" y="28" width="10" height="10" fill="#8e8e8e"/><path d="M0 56 V45 Q1 38 9 36 L16.5 34 L28.5 34 L34 36 Q42 38 43 45 V56 Z" fill="#141414"/><path d="M17.5 34 L27.5 34 L22.5 46 Z" fill="#bdbdbd"/><ellipse cx="22.5" cy="18.6" rx="9.1" ry="15.4" fill="#181818"/><ellipse cx="22.5" cy="21.6" rx="8.1" ry="12.4" fill="url(#g8)"/><ellipse cx="19.27" cy="20.1" rx="1.7" ry="0.9" fill="#555" opacity="0.8"/><ellipse cx="25.73" cy="20.1" rx="1.7" ry="0.9" fill="#555" opacity="0.8"/><path d="M21.7 21.6 L20.9 25.490000000000002 L23.3 25.952" fill="none" stroke="#777" stroke-width="0.8" opacity="0.7"/><path d="M19.525 28.108000000000004 Q22.5 29.648000000000003 25.475 28.108000000000004" fill="none" stroke="#5a5a5a" stroke-width="1.1" opacity="0.75"/><rect x="0.5" y="0.5" width="42" height="55" fill="none" stroke="#4a4a4a" stroke-width="1"/></svg>
<div class="nm" style="top:677.38px">Diane de Saint Victor</div>
<div class="ds" style="top:689.58px;font-size:10.3px;line-height:11.5px">Company Secretary of<br>ABB Ltd, Switzerland</div>
<div class="num" style="left:211.4px;top:698.53px;font-size:10.3px">65</div>
<div class="num" style="left:250.7px;top:698.53px;font-size:10.3px">Nominee</div>
<svg class="ic" style="left:328.50px;top:694.50px;overflow:visible" width="18.00" height="20.00" viewBox="0 0 18 20"><path d="M2.85 11.95 L7.2 16.35" fill="none" stroke="#215068" stroke-width="2.3" stroke-linecap="round"/><path d="M6.15 15.76 L14.4 1.96 L15.8 2.74 L8.25 16.94 Z" fill="#215068"/><circle cx="15.1" cy="2.35" r="0.8" fill="#215068"/><circle cx="7.2" cy="16.35" r="1.2" fill="#215068"/></svg>
<svg class="ic" style="left:382.15px;top:694.65px" width="13" height="17.7" viewBox="0 0 13 17.7"><rect width="13" height="17.7" fill="#111"/><rect x="2.4" y="2" width="8.3" height="4" fill="#fff"/><rect x="2.6" y="7.949999999999999" width="8.2" height="0.6" fill="#fff" opacity="0.45"/><rect x="2.6" y="10.25" width="8.2" height="0.6" fill="#fff" opacity="0.45"/><rect x="2.6" y="12.75" width="8.2" height="0.6" fill="#fff" opacity="0.45"/><rect x="2.6" y="14.95" width="8.2" height="0.6" fill="#fff" opacity="0.45"/><rect x="2.4" y="7.6" width="1.3" height="1.3" fill="#fff"/><rect x="2.4" y="9.9" width="1.3" height="1.3" fill="#fff"/><rect x="2.4" y="12.4" width="1.3" height="1.3" fill="#fff"/><rect x="2.4" y="14.6" width="1.3" height="1.3" fill="#fff"/><rect x="4.7" y="7.6" width="1.3" height="1.3" fill="#fff"/><rect x="4.7" y="9.9" width="1.3" height="1.3" fill="#fff"/><rect x="4.7" y="12.4" width="1.3" height="1.3" fill="#fff"/><rect x="4.7" y="14.6" width="1.3" height="1.3" fill="#fff"/><rect x="7.2" y="7.6" width="1.3" height="1.3" fill="#fff"/><rect x="7.2" y="9.9" width="1.3" height="1.3" fill="#fff"/><rect x="7.2" y="12.4" width="1.3" height="1.3" fill="#fff"/><rect x="7.2" y="14.6" width="1.3" height="1.3" fill="#fff"/><rect x="9.6" y="7.6" width="1.3" height="1.3" fill="#fff"/><rect x="9.6" y="9.9" width="1.3" height="1.3" fill="#fff"/><rect x="9.6" y="12.4" width="1.3" height="1.3" fill="#fff"/><rect x="9.6" y="14.6" width="1.3" height="1.3" fill="#fff"/></svg>
<div class="bd" style="left:658.6px;top:698.63px;font-size:10px">2</div>
<svg class="ic" style="left:71.2px;top:734.6px" width="42.7" height="56.2" viewBox="0 0 43 56" preserveAspectRatio="none"><defs><radialGradient id="g9" cx="0.5" cy="0.42" r="0.62"><stop offset="0" stop-color="#b4b4b4"/><stop offset="0.7" stop-color="#b4b4b4" stop-opacity="0.92"/><stop offset="1" stop-color="#8e8e8e"/></radialGradient></defs><rect width="43" height="56" fill="#727272"/><rect x="16.6" y="26.799999999999997" width="10" height="11.200000000000003" fill="#8e8e8e"/><path d="M0 56 V45 Q1 38 9 36 L15.600000000000001 34 L27.6 34 L34 36 Q42 38 43 45 V56 Z" fill="#222222"/><path d="M15.600000000000001 34 L27.6 34 L24.3 56 L18.900000000000002 56 Z" fill="#d0d0d0"/><path d="M20.0 36 L23.200000000000003 36 L24.0 56 L19.200000000000003 56 Z" fill="#8a8a8a"/><ellipse cx="21.6" cy="18.4" rx="11.6" ry="14.399999999999999" fill="#cfcfcf"/><ellipse cx="21.6" cy="20.9" rx="10.6" ry="11.899999999999999" fill="url(#g9)"/><ellipse cx="17.42" cy="19.65" rx="1.7" ry="0.9" fill="#555" opacity="0.8"/><ellipse cx="25.78" cy="19.65" rx="1.7" ry="0.9" fill="#555" opacity="0.8"/><path d="M20.8 21.15 L20.0 24.689999999999998 L22.400000000000002 25.122" fill="none" stroke="#777" stroke-width="0.8" opacity="0.7"/><path d="M17.75 27.137999999999998 Q21.6 28.577999999999996 25.450000000000003 27.137999999999998" fill="none" stroke="#5a5a5a" stroke-width="1.1" opacity="0.75"/><rect x="12.100000000000001" y="17.849999999999998" width="19" height="0.9" fill="#3a3a3a"/><rect x="14.820000000000002" y="17.849999999999998" width="5.2" height="3.6" fill="none" stroke="#3a3a3a" stroke-width="0.7"/><rect x="23.18" y="17.849999999999998" width="5.2" height="3.6" fill="none" stroke="#3a3a3a" stroke-width="0.7"/><rect x="0.5" y="0.5" width="42" height="55" fill="none" stroke="#4a4a4a" stroke-width="1"/></svg>
<div class="nm" style="top:734.38px">Tan Ek Kia</div>
<div class="ds" style="top:747.51px;font-size:10.5px;line-height:11.5px">Former Chair, Shell<br>Northeast Asia</div>
<div class="num" style="left:211.4px;top:757.82px;font-size:11.5px">71</div>
<div class="num" style="left:250.7px;top:757.82px;font-size:11.5px">2011</div>
<svg class="ic" style="left:328.50px;top:754.00px;overflow:visible" width="18.00" height="20.00" viewBox="0 0 18 20"><path d="M2.85 11.95 L7.2 16.35" fill="none" stroke="#215068" stroke-width="2.3" stroke-linecap="round"/><path d="M6.15 15.76 L14.4 1.96 L15.8 2.74 L8.25 16.94 Z" fill="#215068"/><circle cx="15.1" cy="2.35" r="0.8" fill="#215068"/><circle cx="7.2" cy="16.35" r="1.2" fill="#215068"/></svg>
<div class="cc" style="left:435.70px;top:753.70px"><span>C</span></div>
<svg class="ic" style="left:613.00px;top:754.25px" width="17" height="17.5" viewBox="0 0 17 17.5"><circle cx="8.5" cy="4.1" r="4.1" fill="#8e8e8e"/><path d="M0 17.5 V14.3 C0 11.2 2.6 9.8 6 9.8 H11 C14.4 9.8 17 11.2 17 14.3 V17.5 Z" fill="#8e8e8e"/></svg>
<div class="bd" style="left:658.6px;top:757.96px;font-size:10.5px">3</div>
<svg class="ic" style="left:70.3px;top:795.4px" width="40.9" height="54.0" viewBox="0 0 43 56" preserveAspectRatio="none"><defs><radialGradient id="g10" cx="0.5" cy="0.42" r="0.62"><stop offset="0" stop-color="#c4c4c4"/><stop offset="0.7" stop-color="#c4c4c4" stop-opacity="0.92"/><stop offset="1" stop-color="#8e8e8e"/></radialGradient></defs><rect width="43" height="56" fill="#565656"/><rect x="14.399999999999999" y="29" width="10" height="10" fill="#8e8e8e"/><path d="M0 56 V46 Q1 39 9 37 L13.399999999999999 35 L25.4 35 L34 37 Q42 39 43 46 V56 Z" fill="#1a1a1a"/><path d="M13.399999999999999 35 L25.4 35 L22.099999999999998 56 L16.7 56 Z" fill="#eeeeee"/><ellipse cx="19.4" cy="18.4" rx="13" ry="16.6" fill="url(#g10)"/><ellipse cx="7.599999999999999" cy="15.909999999999998" rx="2.4" ry="6.308000000000001" fill="#a8a8a8"/><ellipse cx="31.2" cy="15.909999999999998" rx="2.4" ry="6.308000000000001" fill="#a8a8a8"/><ellipse cx="14.459999999999997" cy="18.4" rx="1.7" ry="0.9" fill="#555" opacity="0.8"/><ellipse cx="24.34" cy="18.4" rx="1.7" ry="0.9" fill="#555" opacity="0.8"/><path d="M18.599999999999998 19.9 L17.799999999999997 24.21 L20.2 24.708" fill="none" stroke="#777" stroke-width="0.8" opacity="0.7"/><path d="M14.849999999999998 27.032 Q19.4 28.692 23.95 27.032" fill="none" stroke="#5a5a5a" stroke-width="1.1" opacity="0.75"/><rect x="0.5" y="0.5" width="42" height="55" fill="none" stroke="#4a4a4a" stroke-width="1"/></svg>
<div class="nm" style="top:796.38px">Jeremy D. Thigpen</div>
<div class="ds" style="top:808.51px;font-size:10.5px;line-height:11.5px">President and CEO,<br>Transocean Ltd.</div>
<div class="num" style="left:211.4px;top:816.72px;font-size:11.5px">45</div>
<div class="num" style="left:250.7px;top:816.72px;font-size:11.5px">2015</div>
<div class="bd" style="left:658.6px;top:817.46px;font-size:10.5px">0</div>
<div class="mt" style="left:115px;top:852.95px">MEETINGS IN 2019:</div>
<div class="mt" style="left:251px;top:852.95px">BOARD:</div>
<div class="mt" style="left:314.5px;top:852.95px;color:#2e6485">4</div>
<div class="mt" style="left:115px;top:866.45px;letter-spacing:0.1px">TOTAL NUMBER OF MEETINGS IN 2019: <span style="color:#2e6485">28</span></div>
<div class="mv" style="left:374.2px;top:853.39px">8</div>
<div class="mv" style="left:430.0px;top:853.39px">4</div>
<div class="mv" style="left:484.8px;top:853.39px">4</div>
<div class="mv" style="left:537.0px;top:853.39px">4</div>
<div class="mv" style="left:606.5px;top:853.39px">4</div>
<div class="a" style="left:70px;top:879px;width:629px;height:1px;background:#d4d4d4"></div>
<div class="cc" style="left:77.20px;top:888.10px"><span>C</span></div>
<div class="lg" style="left:111px;top:886.81px">Committee<br>Chair</div>
<div class="vl" style="left:194px;top:885.5px;height:35.5px"></div>
<svg class="ic" style="left:201.70px;top:887.60px" width="17" height="17.5" viewBox="0 0 17 17.5"><circle cx="8.5" cy="4.1" r="4.1" fill="#8e8e8e"/><path d="M0 17.5 V14.3 C0 11.2 2.6 9.8 6 9.8 H11 C14.4 9.8 17 11.2 17 14.3 V17.5 Z" fill="#8e8e8e"/></svg>
<div class="lg" style="left:235px;top:886.81px">Committee<br>Member</div>
<div class="vl" style="left:316.5px;top:885.5px;height:35.5px"></div>
<svg class="ic" style="left:323.70px;top:887.80px" width="13" height="17.7" viewBox="0 0 13 17.7"><rect width="13" height="17.7" fill="#111"/><rect x="2.4" y="2" width="8.3" height="4" fill="#fff"/><rect x="2.6" y="7.949999999999999" width="8.2" height="0.6" fill="#fff" opacity="0.45"/><rect x="2.6" y="10.25" width="8.2" height="0.6" fill="#fff" opacity="0.45"/><rect x="2.6" y="12.75" width="8.2" height="0.6" fill="#fff" opacity="0.45"/><rect x="2.6" y="14.95" width="8.2" height="0.6" fill="#fff" opacity="0.45"/><rect x="2.4" y="7.6" width="1.3" height="1.3" fill="#fff"/><rect x="2.4" y="9.9" width="1.3" height="1.3" fill="#fff"/><rect x="2.4" y="12.4" width="1.3" height="1.3" fill="#fff"/><rect x="2.4" y="14.6" width="1.3" height="1.3" fill="#fff"/><rect x="4.7" y="7.6" width="1.3" height="1.3" fill="#fff"/><rect x="4.7" y="9.9" width="1.3" height="1.3" fill="#fff"/><rect x="4.7" y="12.4" width="1.3" height="1.3" fill="#fff"/><rect x="4.7" y="14.6" width="1.3" height="1.3" fill="#fff"/><rect x="7.2" y="7.6" width="1.3" height="1.3" fill="#fff"/><rect x="7.2" y="9.9" width="1.3" height="1.3" fill="#fff"/><rect x="7.2" y="12.4" width="1.3" height="1.3" fill="#fff"/><rect x="7.2" y="14.6" width="1.3" height="1.3" fill="#fff"/><rect x="9.6" y="7.6" width="1.3" height="1.3" fill="#fff"/><rect x="9.6" y="9.9" width="1.3" height="1.3" fill="#fff"/><rect x="9.6" y="12.4" width="1.3" height="1.3" fill="#fff"/><rect x="9.6" y="14.6" width="1.3" height="1.3" fill="#fff"/></svg>
<div class="lg" style="left:352.3px;top:886.81px">Audit Committee<br>financial expert (SEC<br>and NYSE)</div>
<div class="vl" style="left:470.5px;top:885.5px;height:35.5px"></div>
<svg class="ic" style="left:491.62px;top:890.62px;overflow:visible" width="14.76" height="16.40" viewBox="0 0 18 20"><path d="M2.85 11.95 L7.2 16.35" fill="none" stroke="#215068" stroke-width="2.3" stroke-linecap="round"/><path d="M6.15 15.76 L14.4 1.96 L15.8 2.74 L8.25 16.94 Z" fill="#215068"/><circle cx="15.1" cy="2.35" r="0.8" fill="#215068"/><circle cx="7.2" cy="16.35" r="1.2" fill="#215068"/></svg>
<div class="lg" style="left:520px;top:886.81px">Independent, as determined by the<br>Board of Directors in accordance<br>with applicable rules and regulations</div>
<div class="ft" style="left:267px;top:961.96px">Transocean 2020</div>
<div class="ft" style="left:381.5px;top:961.96px">vi</div>
<div class="ft" style="left:405.5px;top:961.96px">Proxy Statement</div>
</body></html>
